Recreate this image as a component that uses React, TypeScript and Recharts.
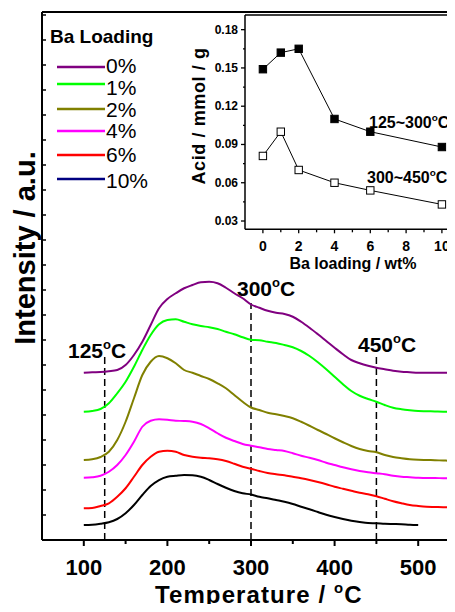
import React from 'react';
import { LineChart, Line, XAxis, YAxis, ReferenceLine } from 'recharts';

// TPD curves (offset units, 1 unit = one y tick)
const temps = [100, 110, 120, 130, 140, 150, 160, 170, 180, 190, 200, 210, 220, 230, 240, 250, 260, 270, 280, 290,
  300, 310, 320, 330, 340, 350, 360, 370, 380, 390, 400, 410, 420, 430, 440, 450, 460, 470, 480, 490, 500,
  510, 520, 530, 540, 550];
const ba0 = [6.69, 6.71, 6.72, 6.75, 6.8, 7.0, 7.4, 7.93, 8.6, 9.27, 9.64, 9.87, 10.07, 10.2, 10.31, 10.33, 10.27, 10.09, 9.87, 9.67,
  9.42, 9.29, 9.17, 9.09, 9.04, 8.93, 8.73, 8.49, 8.23, 7.96, 7.69, 7.43, 7.2, 7.07, 6.97, 6.89, 6.83, 6.77, 6.73, 6.71, 6.69,
  6.69, 6.69, 6.69, 6.69, 6.69];
const ba1 = [5.13, 5.16, 5.24, 5.47, 5.87, 6.33, 6.93, 7.6, 8.2, 8.63, 8.8, 8.83, 8.73, 8.63, 8.56, 8.51, 8.44, 8.33, 8.23, 8.11,
  8.01, 7.99, 7.93, 7.88, 7.8, 7.71, 7.56, 7.36, 7.11, 6.83, 6.53, 6.23, 5.96, 5.77, 5.64, 5.53, 5.4, 5.29, 5.23, 5.19, 5.16,
  5.15, 5.14, 5.13, 5.13, 5.13];
const ba2 = [3.2, 3.23, 3.32, 3.53, 4.0, 4.73, 5.67, 6.6, 7.13, 7.36, 7.27, 7.07, 6.8, 6.69, 6.56, 6.44, 6.27, 6.07, 5.8, 5.53,
  5.3, 5.2, 5.09, 5.03, 4.96, 4.87, 4.73, 4.57, 4.4, 4.24, 4.07, 3.91, 3.76, 3.64, 3.56, 3.51, 3.4, 3.32, 3.27, 3.23, 3.21,
  3.2, 3.19, 3.18, 3.17, 3.17];
const ba4 = [2.49, 2.51, 2.57, 2.73, 3.0, 3.4, 3.93, 4.53, 4.77, 4.83, 4.81, 4.77, 4.76, 4.73, 4.64, 4.47, 4.27, 4.09, 3.96, 3.84,
  3.77, 3.71, 3.64, 3.6, 3.56, 3.47, 3.37, 3.29, 3.2, 3.09, 3.0, 2.91, 2.83, 2.76, 2.71, 2.67, 2.63, 2.57, 2.53, 2.51, 2.49,
  2.48, 2.48, 2.47, 2.47, 2.47];
const ba6 = [1.27, 1.28, 1.36, 1.47, 1.73, 2.07, 2.53, 3.0, 3.33, 3.53, 3.57, 3.53, 3.4, 3.33, 3.29, 3.27, 3.23, 3.16, 3.05, 2.93,
  2.85, 2.76, 2.68, 2.63, 2.59, 2.53, 2.47, 2.4, 2.32, 2.23, 2.13, 2.05, 1.97, 1.89, 1.83, 1.75, 1.65, 1.55, 1.47, 1.4, 1.36,
  1.33, 1.32, 1.31, 1.31, 1.31];
const ba10 = [0.6, 0.61, 0.65, 0.71, 0.84, 1.07, 1.4, 1.8, 2.16, 2.4, 2.53, 2.57, 2.6, 2.59, 2.53, 2.4, 2.24, 2.09, 1.96, 1.87,
  1.82, 1.73, 1.67, 1.6, 1.53, 1.44, 1.33, 1.23, 1.12, 1.01, 0.92, 0.84, 0.77, 0.72, 0.68, 0.67, 0.65, 0.64, 0.63, 0.61, 0.6,
  null, null, null, null, null];

const loadingLabels = ['0%', '1%', '2%', '4%', '6%', '10%'];
const tempTicks = [100, 150, 200, 250, 300, 350, 400, 450, 500, 550];
const intensityTicks = [1, 2, 3, 4, 5, 6, 7, 8, 9, 10, 11, 12, 13, 14, 15, 16, 17, 18, 19, 20, 21];
const markerTemps = [125, 300, 450];
const markerTops = [7.32, 9.48, 7.48];

// inset: acid amount vs Ba loading
const baLoading = [0, 1, 2, 4, 6, 10];
const acidLow = [0.149, 0.162, 0.165, 0.110, 0.100, 0.088];   // 125~300 C
const acidHigh = [0.081, 0.100, 0.070, 0.060, 0.054, 0.043];  // 300~450 C
const insetXTicks = [0, 1, 2, 3, 4, 5, 6, 7, 8, 9, 10];
const insetYTicks = [0.03, 0.045, 0.06, 0.075, 0.09, 0.105, 0.12, 0.135, 0.15, 0.165, 0.18];

const FONT = '"Liberation Sans", Arial, Helvetica, sans-serif';
const curveColors = ['#800080', '#00ff00', '#808000', '#ff00ff', '#ff0000', '#000000'];
const legendColors = ['#800080', '#00ff00', '#808000', '#ff00ff', '#ff0000', '#000080'];
const legendLineY = [67, 84, 109, 131, 155, 179];
const legendTextY = [73, 95, 117, 138, 162, 188];

const allSeries = [ba0, ba1, ba2, ba4, ba6, ba10];
const tpdData = temps.map((t, i) => {
  const row: any = { t };
  allSeries.forEach((s, k) => { row['s' + k] = s[i]; });
  return row;
});
const insetData = baLoading.map((w, i) => ({ w, low: acidLow[i], high: acidHigh[i] }));

const TempTick = (props: any) => {
  const { x, y, payload } = props;
  const major = payload.value % 100 === 0;
  return (
    <g>
      <line x1={x} y1={y} x2={x} y2={y + (major ? 6 : 4)} stroke="#000" strokeWidth={2} />
      {major && (
        <text x={x} y={y + 35} textAnchor="middle" fontSize={22} fontWeight="bold" fontFamily={FONT} fill="#000">
          {payload.value}
        </text>
      )}
    </g>
  );
};

const IntensityTick = (props: any) => {
  const { x, y } = props;
  return <line x1={x} y1={y} x2={x + 4} y2={y} stroke="#000" strokeWidth={1.5} />;
};

const InsetXTick = (props: any) => {
  const { x, y, payload } = props;
  const major = payload.value % 2 === 0;
  return (
    <g>
      <line x1={x} y1={y} x2={x} y2={y + (major ? 4 : 3)} stroke="#000" strokeWidth={1.3} />
      {major && (
        <text x={x} y={y + 22} textAnchor="middle" fontSize={14} fontWeight="bold" fontFamily={FONT} fill="#000">
          {payload.value}
        </text>
      )}
    </g>
  );
};

const InsetYTick = (props: any) => {
  const { x, y, payload } = props;
  const major = Math.round(payload.value * 1000) % 30 === 0;
  return (
    <g>
      <line x1={x} y1={y} x2={x - (major ? 4 : 2)} y2={y} stroke="#000" strokeWidth={1.3} />
      {major && (
        <text x={x - 7} y={y + 4} textAnchor="end" fontSize={12} fontWeight="bold" fontFamily={FONT} fill="#000">
          {payload.value.toFixed(2)}
        </text>
      )}
    </g>
  );
};

const squareDot = (filled: boolean) => (props: any) => {
  const { cx, cy, index } = props;
  return (
    <rect key={index} x={cx - 3.7} y={cy - 3.7} width={7.4} height={7.4}
      fill={filled ? '#000' : '#fff'} stroke="#000" strokeWidth={1} />
  );
};

const DegText = ({ x, y, text, size, spacing = 0 }: any) => (
  <text x={x} y={y} fontSize={size} fontWeight="bold" fontFamily={FONT} fill="#000" letterSpacing={spacing}>
    {text}
    <tspan dy={-size * 0.42} fontSize={size * 0.62}>o</tspan>
    <tspan dy={size * 0.42}>C</tspan>
  </text>
);

export default function App() {
  return (
    <div style={{ position: 'relative', width: 455, height: 612, overflow: 'hidden', background: '#fff', margin: -8 }}>
      <div style={{ position: 'absolute', left: 0, top: 0 }}>
        <LineChart width={470} height={612} data={tpdData} margin={{ top: 12, right: 10, bottom: 0, left: 0 }}>
          <XAxis dataKey="t" type="number" domain={[50, 550]} ticks={tempTicks} interval={0} allowDataOverflow
            height={72} tickSize={0} tickMargin={0} tickLine={false} tick={TempTick}
            axisLine={{ stroke: '#000', strokeWidth: 2 }} />
          <YAxis type="number" domain={[0, 21.12]} ticks={intensityTicks} interval={0} allowDataOverflow
            width={42} tickSize={0} tickMargin={0} tickLine={false} tick={IntensityTick}
            axisLine={{ stroke: '#000', strokeWidth: 2 }} />
          <ReferenceLine y={21.12} stroke="#000" strokeWidth={2} />
          {markerTemps.map((t, i) => (
            <ReferenceLine key={t} segment={[{ x: t, y: 0 }, { x: t, y: markerTops[i] }]}
              stroke="#000" strokeWidth={1.5} strokeDasharray="7 4" />
          ))}
          {allSeries.map((_, k) => (
            <Line key={k} type="monotone" dataKey={'s' + k} name={loadingLabels[k]} stroke={curveColors[k]}
              strokeWidth={2} dot={false} activeDot={false} isAnimationActive={false} />
          ))}
        </LineChart>
      </div>

      <div style={{ position: 'absolute', left: 190, top: 0 }}>
        <LineChart width={280} height={280} data={insetData} margin={{ top: 15, right: 10.2, bottom: 0, left: 0 }}>
          <XAxis dataKey="w" type="number" domain={[-1, 11]} ticks={insetXTicks} interval={0} allowDataOverflow
            height={50.7} tickSize={0} tickMargin={0} tickLine={false} tick={InsetXTick}
            axisLine={{ stroke: '#000', strokeWidth: 1.5 }} />
          <YAxis type="number" domain={[0.0235, 0.1915]} ticks={insetYTicks} interval={0} allowDataOverflow
            width={55} tickSize={0} tickMargin={0} tickLine={false} tick={InsetYTick}
            axisLine={{ stroke: '#000', strokeWidth: 1.5 }} />
          <ReferenceLine y={0.1915} stroke="#000" strokeWidth={1.5} />
          <Line type="linear" dataKey="low" stroke="#000" strokeWidth={1} dot={squareDot(true)}
            activeDot={false} isAnimationActive={false} />
          <Line type="linear" dataKey="high" stroke="#000" strokeWidth={1} dot={squareDot(false)}
            activeDot={false} isAnimationActive={false} />
        </LineChart>
      </div>

      <svg width={455} height={612} style={{ position: 'absolute', left: 0, top: 0, pointerEvents: 'none' }}>
        <text transform="translate(35,248) rotate(-90)" textAnchor="middle" fontSize={29} fontWeight="bold"
          fontFamily={FONT} fill="#000">Intensity / a.u.</text>
        <DegText x={155} y={603} text="Temperature / " size={24} spacing={1.1} />

        <DegText x={68} y={358} text="125" size={21} />
        <DegText x={237} y={296} text="300" size={21} />
        <DegText x={358} y={352} text="450" size={21} />

        <text transform="translate(205,116) rotate(-90)" textAnchor="middle" fontSize={18} fontWeight="bold"
          fontFamily={FONT} fill="#000" letterSpacing={0.6}>Acid / mmol / g</text>
        <text x={353} y={269} textAnchor="middle" fontSize={16} fontWeight="bold" fontFamily={FONT} fill="#000">
          Ba loading / wt%
        </text>
        <DegText x={369} y={128} text="125~300" size={16} />
        <DegText x={367} y={183} text="300~450" size={16} />

        <text x={50} y={43} fontSize={19} fontWeight="bold" fontFamily={FONT} fill="#000">Ba Loading</text>
        {loadingLabels.map((lab, i) => (
          <g key={lab}>
            <line x1={57} x2={105} y1={legendLineY[i]} y2={legendLineY[i]} stroke={legendColors[i]} strokeWidth={2.5} />
            <text x={106} y={legendTextY[i]} fontSize={21} fontFamily={FONT} fill="#000">{lab}</text>
          </g>
        ))}
      </svg>
    </div>
  );
}
